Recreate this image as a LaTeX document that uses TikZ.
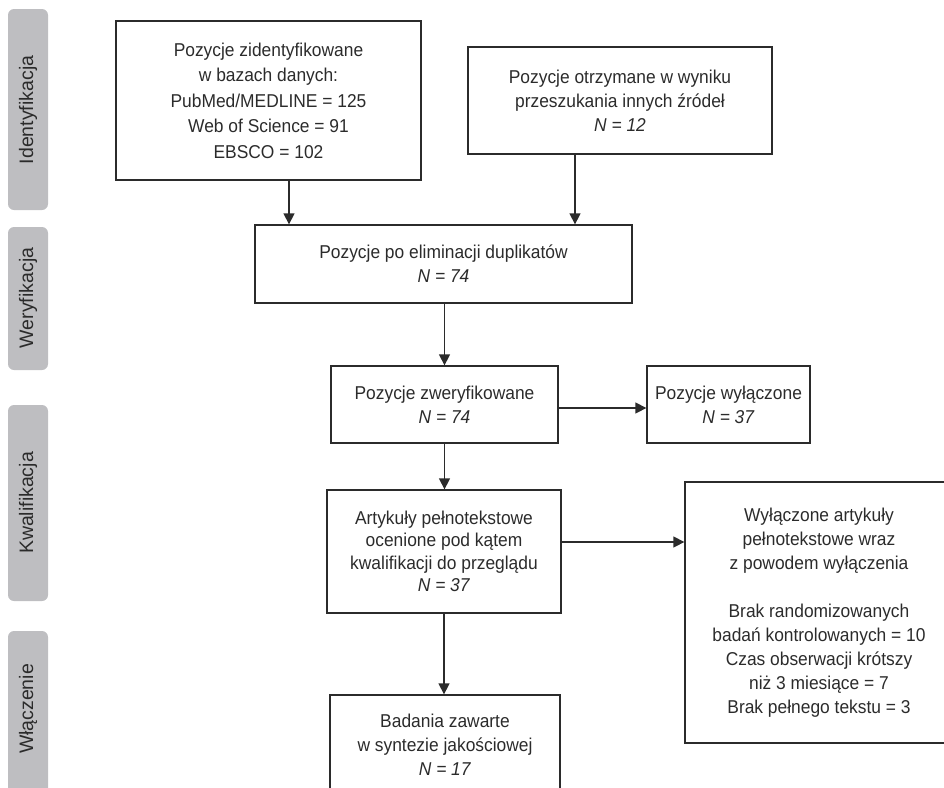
\documentclass[tikz,border=0pt]{standalone}
\usepackage{fontspec}
\setmainfont{Liberation Sans}[FakeStretch=0.935]
\newfontfamily\sidefont{Liberation Sans}
\usetikzlibrary{arrows.meta}
\definecolor{ink}{HTML}{2B2B2B}
\definecolor{barfill}{HTML}{BEBEC1}
\begin{document}
\begin{tikzpicture}[x=1pt,y=-1pt,
  box/.style={draw=ink, line width=1.3pt, text=ink, align=center, inner sep=0pt,
    font=\fontsize{18.6}{24}\selectfont},
  arr/.style={draw=ink, line width=1.3pt, -{Triangle[length=11pt,width=11pt]}},
  phase/.style={fill=barfill, rounded corners=6pt},
  phasetext/.style={rotate=90, text=ink, font=\sidefont\fontsize{19.5}{24}\selectfont}]
\useasboundingbox (0,0) rectangle (944,787);
\clip (0,0) rectangle (944,787);

% phase bars
\path[phase] (8,9) rectangle (48,210);
\path[phase] (8,227) rectangle (48,370);
\path[phase] (8,405) rectangle (48,601);
\path[phase] (8,631) rectangle (48,820);
\node[phasetext] (p1) at (28,110) {Identyfikacja};
\node[phasetext] (p2) at (28,298) {Weryfikacja};
\node[phasetext] (p3) at (28,503) {Kwalifikacja};
\node[phasetext] (p4) at (28,709) {Włączenie};

% boxes
\node[box, minimum width=305pt, minimum height=159pt, font=\fontsize{18.6}{25.5}\selectfont] (b1) at (268.5,100.5)
  {Pozycje zidentyfikowane\\w bazach danych:\\PubMed/MEDLINE = 125\\Web of Science = 91\\EBSCO = 102};
\node[box, minimum width=304pt, minimum height=107pt] (b2) at (620,100.5)
  {Pozycje otrzymane w wyniku\\przeszukania innych źródeł\\\textit{N = 12}};
\node[box, minimum width=377pt, minimum height=78pt] (b3) at (443.5,264)
  {Pozycje po eliminacji duplikatów\\\textit{N = 74}};
\node[box, minimum width=227pt, minimum height=77pt] (b4) at (444.5,404.5)
  {Pozycje zweryfikowane\\\textit{N = 74}};
\node[box, minimum width=163pt, minimum height=77pt] (b5) at (728.5,404.5)
  {Pozycje wyłączone\\\textit{N = 37}};
\node[box, minimum width=234pt, minimum height=123pt, font=\fontsize{18.6}{22.5}\selectfont] (b6) at (444,551.5)
  {Artykuły pełnotekstowe\\ocenione pod kątem\\kwalifikacji do przeglądu\\\textit{N = 37}};
\node[box, minimum width=268pt, minimum height=261pt] (b7) at (819,612.5)
  {Wyłączone artykuły\\pełnotekstowe wraz\\z powodem wyłączenia\\[24pt]Brak randomizowanych\\badań kontrolowanych = 10\\Czas obserwacji krótszy\\niż 3 miesiące = 7\\Brak pełnego tekstu = 3};
\node[box, minimum width=230pt, minimum height=100pt] (b8) at (445,745)
  {Badania zawarte\\w syntezie jakościowej\\\textit{N = 17}};

% connectors
\coordinate (x1) at (289,0);
\coordinate (x2) at (575,0);
\coordinate (y1) at (0,408);
\coordinate (y2) at (0,542);
\draw[arr] (b1.south -| x1) -- (b3.north -| x1);
\draw[arr] (b2.south -| x2) -- (b3.north -| x2);
\draw[arr] (b3.south -| b4.north) -- (b4.north);
\draw[arr] (b4.east |- y1) -- (b5.west |- y1);
\draw[arr] (b4.south) -- (b6.north -| b4.south);
\draw[arr] (b6.east |- y2) -- (b7.west |- y2);
\draw[arr] (b6.south) -- (b8.north -| b6.south);
\end{tikzpicture}
\end{document}
